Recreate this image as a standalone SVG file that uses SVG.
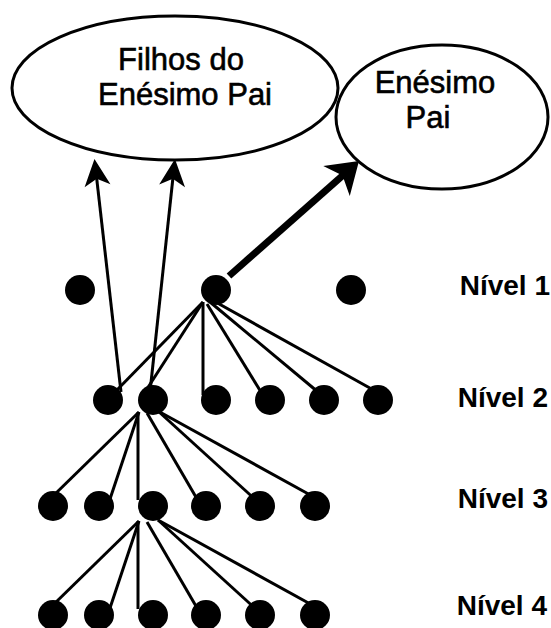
<svg xmlns="http://www.w3.org/2000/svg" width="551" height="628" viewBox="0 0 551 628">
  <style>
    .bg { fill: #ffffff; }
    .oval { fill: #ffffff; stroke: #000000; stroke-width: 3; }
    .dot { fill: #000000; }
    .edge { fill: none; stroke: #000000; stroke-width: 3; }
    .thick { fill: none; stroke: #000000; stroke-width: 7; }
    .lbl { font-family: "Liberation Sans", Arial, sans-serif; fill: #000000; }
    .big { font-size: 31px; text-anchor: middle; stroke: #000000; stroke-width: 0.6; }
    .lvl { font-size: 28px; font-weight: bold; text-anchor: end; }
  </style>
  <defs>
    <marker id="head" markerUnits="userSpaceOnUse" viewBox="-18 -14 30 28" markerWidth="30" markerHeight="28" refX="0" refY="0" orient="auto">
      <path d="M10,0 L-17,-13 L-10,0 L-17,13 Z" fill="#000000"/>
    </marker>
    <marker id="headBig" markerUnits="userSpaceOnUse" viewBox="-18 -22 34 44" markerWidth="34" markerHeight="44" refX="0" refY="0" orient="auto">
      <path d="M14,0 L-16,-20 L-8,0 L-16,20 Z" fill="#000000"/>
    </marker>
  </defs>

  <rect class="bg" x="0" y="0" width="551" height="628"/>

  <!-- connectors -->
  <g id="connectors">
    <!-- upward arrows -->
    <path class="edge" d="M121,392 L95.6,168.9" marker-end="url(#head)"/>
    <path class="edge" d="M150,392 L173.9,168.9" marker-end="url(#head)"/>
    <path class="thick" d="M229,276 L348.5,170.3" marker-end="url(#headBig)"/>

    <!-- level 1 to level 2 -->
    <path class="edge" d="M203,302 L115,392"/>
    <path class="edge" d="M203,302 L145,392"/>
    <path class="edge" d="M203,302 L203,395"/>
    <path class="edge" d="M207,304 L261,392"/>
    <path class="edge" d="M210,302 L318,392"/>
    <path class="edge" d="M212,300 L377,392"/>

    <!-- level 2 to level 3 -->
    <path class="edge" d="M139,412 L52,497"/>
    <path class="edge" d="M139,412 L110,499"/>
    <path class="edge" d="M138,412 L138,500"/>
    <path class="edge" d="M147,413 L196.5,498"/>
    <path class="edge" d="M158,411 L253.6,498"/>
    <path class="edge" d="M158,411 L315.7,498"/>

    <!-- level 3 to level 4 -->
    <path class="edge" d="M139,521 L52,606"/>
    <path class="edge" d="M139,521 L110,608"/>
    <path class="edge" d="M138,521 L138,609"/>
    <path class="edge" d="M147,522 L196.5,607"/>
    <path class="edge" d="M158,520 L253.6,607"/>
    <path class="edge" d="M158,520 L315.7,607"/>
  </g>

  <!-- ovals -->
  <g id="filhos">
    <ellipse class="oval" cx="175" cy="88" rx="163" ry="72"/>
    <text class="lbl big" x="181" y="70">Filhos do</text>
    <text class="lbl big" x="185" y="105">Enésimo Pai</text>
  </g>
  <g id="pai">
    <ellipse class="oval" cx="442" cy="117" rx="106" ry="72"/>
    <text class="lbl big" x="435" y="93">Enésimo</text>
    <text class="lbl big" x="428" y="128">Pai</text>
  </g>

  <!-- level 1 -->
  <g id="n1a"><circle class="dot" cx="80" cy="290" r="15"/></g>
  <g id="n1b"><circle class="dot" cx="216" cy="290" r="15"/></g>
  <g id="n1c"><circle class="dot" cx="351" cy="290" r="15"/></g>

  <!-- level 2 -->
  <g id="n2a"><circle class="dot" cx="108" cy="400" r="15"/></g>
  <g id="n2b"><circle class="dot" cx="153" cy="400" r="15"/></g>
  <g id="n2c"><circle class="dot" cx="216" cy="400" r="15"/></g>
  <g id="n2d"><circle class="dot" cx="270" cy="400" r="15"/></g>
  <g id="n2e"><circle class="dot" cx="324" cy="400" r="15"/></g>
  <g id="n2f"><circle class="dot" cx="378" cy="400" r="15"/></g>

  <!-- level 3 -->
  <g id="n3a"><circle class="dot" cx="53" cy="506" r="15"/></g>
  <g id="n3b"><circle class="dot" cx="99" cy="506" r="15"/></g>
  <g id="n3c"><circle class="dot" cx="153" cy="506" r="15"/></g>
  <g id="n3d"><circle class="dot" cx="206" cy="506" r="15"/></g>
  <g id="n3e"><circle class="dot" cx="260" cy="506" r="15"/></g>
  <g id="n3f"><circle class="dot" cx="315" cy="506" r="15"/></g>

  <!-- level 4 -->
  <g id="n4a"><circle class="dot" cx="53" cy="615" r="15"/></g>
  <g id="n4b"><circle class="dot" cx="99" cy="615" r="15"/></g>
  <g id="n4c"><circle class="dot" cx="153" cy="615" r="15"/></g>
  <g id="n4d"><circle class="dot" cx="206" cy="615" r="15"/></g>
  <g id="n4e"><circle class="dot" cx="260" cy="615" r="15"/></g>
  <g id="n4f"><circle class="dot" cx="315" cy="615" r="15"/></g>

  <!-- level captions -->
  <g id="levels">
    <text class="lbl lvl" x="550" y="295">Nível 1</text>
    <text class="lbl lvl" x="548" y="407">Nível 2</text>
    <text class="lbl lvl" x="548" y="508">Nível 3</text>
    <text class="lbl lvl" x="547" y="615">Nível 4</text>
  </g>
</svg>
